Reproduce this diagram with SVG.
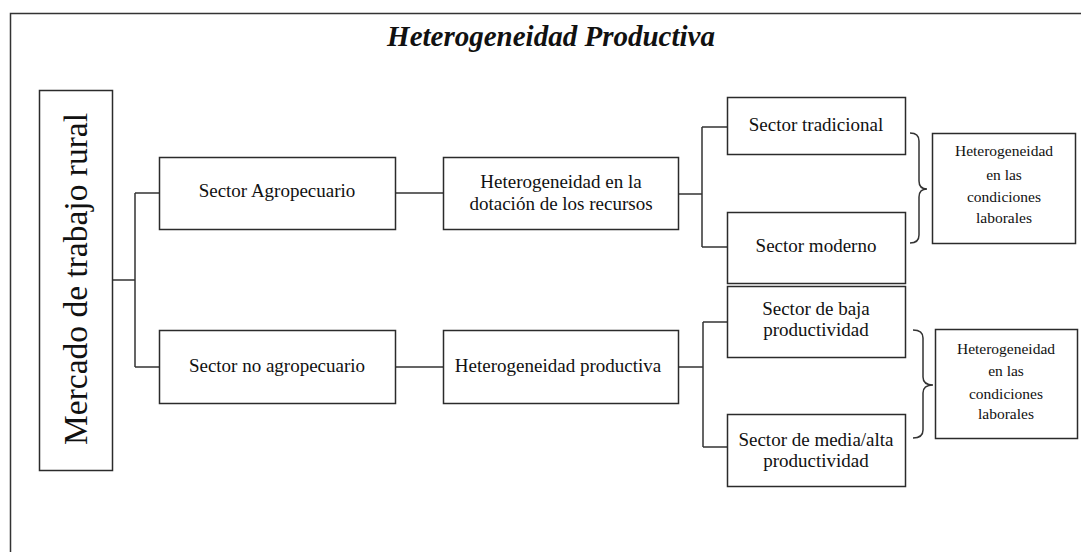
<svg xmlns="http://www.w3.org/2000/svg" width="1081" height="552" viewBox="0 0 1081 552">
<style>
.box{fill:#fff;stroke:#2b2b2b;stroke-width:1.5}
.ln{fill:none;stroke:#333;stroke-width:1.5}
.t{font-family:"Liberation Serif","Times New Roman",serif;font-size:19px;fill:#111;text-anchor:middle}
.s{font-family:"Liberation Serif","Times New Roman",serif;font-size:15.5px;fill:#111;text-anchor:middle}
</style>
<rect width="1081" height="552" fill="#fff"/>
<path class="ln" d="M10.5 560 V13.5 H1090"/>
<text x="551" y="46" font-family="'Liberation Serif','Times New Roman',serif" font-size="29" font-weight="bold" font-style="italic" text-anchor="middle" fill="#111">Heterogeneidad Productiva</text>

<g id="connectors">
<path class="ln" d="M112 280 H135 M135 193 V367 M135 193 H159 M135 367 H159"/>
<path class="ln" d="M396 193 H443 M396 367 H443"/>
<path class="ln" d="M678 194 H702 M702 127 V247 M702 127 H727 M702 247 H727"/>
<path class="ln" d="M678 367 H703 M703 322 V447 M703 322 H727 M703 447 H727"/>
<path class="ln" d="M910 133 Q919 133 919 141 V181 Q919 189 927 189 Q919 189 919 197 V235 Q919 243 910 243"/>
<path class="ln" d="M913 330 Q923 330 923 338 V377 Q923 385 933 385 Q923 385 923 393 V430 Q923 438 913 438"/>
</g>

<g id="mercado">
<rect class="box" x="39.5" y="90.5" width="73" height="380"/>
<text x="87" y="279" transform="rotate(-90 87 279)" font-family="'Liberation Serif','Times New Roman',serif" font-size="33.5" text-anchor="middle" fill="#111">Mercado de trabajo rural</text>
</g>

<g id="agro">
<rect class="box" x="159.5" y="157.5" width="236" height="72"/>
<text class="t" x="277" y="197">Sector Agropecuario</text>
</g>
<g id="noagro">
<rect class="box" x="159.5" y="330.5" width="236" height="73"/>
<text class="t" x="277" y="372">Sector no agropecuario</text>
</g>
<g id="dotacion">
<rect class="box" x="443.5" y="157.5" width="235" height="72"/>
<text class="t" x="561" y="188">Heterogeneidad  en la</text>
<text class="t" x="561" y="210">dotación de los recursos</text>
</g>
<g id="hprod">
<rect class="box" x="443.5" y="330.5" width="235" height="73"/>
<text class="t" x="558" y="372">Heterogeneidad  productiva</text>
</g>
<g id="tradicional">
<rect class="box" x="727.5" y="97.5" width="178" height="57"/>
<text class="t" x="816" y="131">Sector tradicional</text>
</g>
<g id="moderno">
<rect class="box" x="727.5" y="212.5" width="178" height="71"/>
<text class="t" x="816" y="252">Sector moderno</text>
</g>
<g id="baja">
<rect class="box" x="727.5" y="286.5" width="178" height="71"/>
<text class="t" x="816" y="315">Sector de baja</text>
<text class="t" x="816" y="336">productividad</text>
</g>
<g id="media">
<rect class="box" x="727.5" y="414.5" width="178" height="72"/>
<text class="t" x="816" y="446">Sector de media/alta</text>
<text class="t" x="816" y="467">productividad</text>
</g>
<g id="cond1">
<rect class="box" x="932.5" y="133.5" width="143" height="110"/>
<text class="s" x="1004" y="156">Heterogeneidad</text>
<text class="s" x="1004" y="180">en las</text>
<text class="s" x="1004" y="202">condiciones</text>
<text class="s" x="1004" y="223">laborales</text>
</g>
<g id="cond2">
<rect class="box" x="935.5" y="329.5" width="142" height="109"/>
<text class="s" x="1006" y="354">Heterogeneidad</text>
<text class="s" x="1006" y="376">en las</text>
<text class="s" x="1006" y="399">condiciones</text>
<text class="s" x="1006" y="419">laborales</text>
</g>
</svg>
